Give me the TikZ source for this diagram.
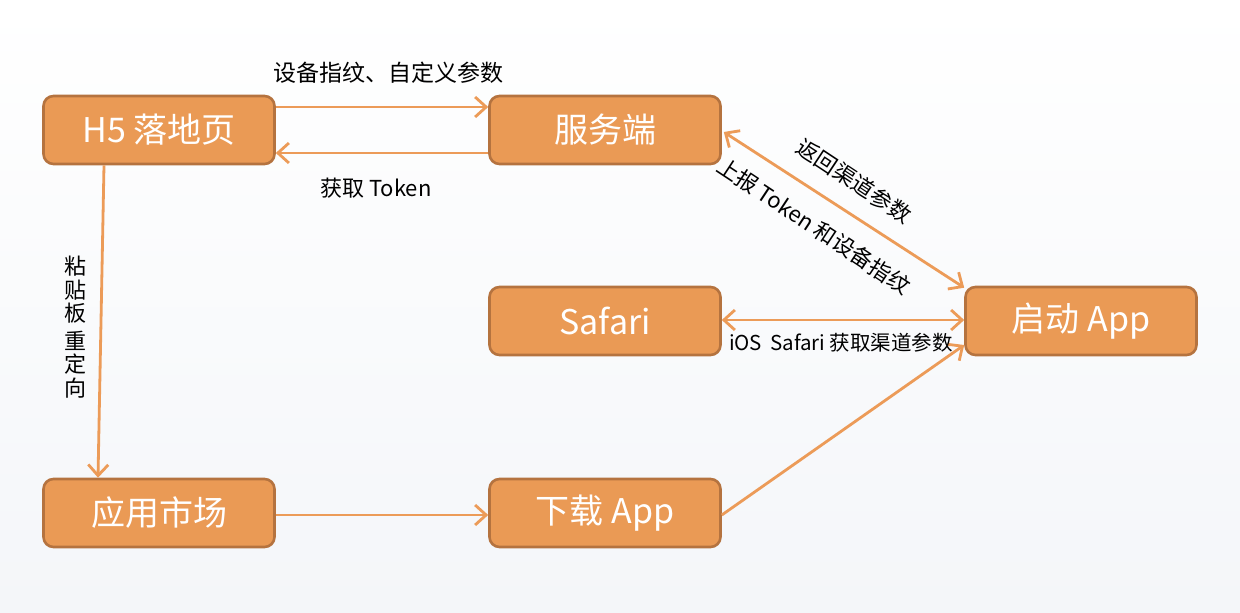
\documentclass[tikz,border=0pt]{standalone}
\usepackage{fontspec}
\setmainfont{Noto Sans CJK SC}
\usetikzlibrary{arrows.meta,calc}
\definecolor{boxfill}{HTML}{EA9A55}
\definecolor{boxline}{HTML}{B5733F}
\definecolor{arrowc}{HTML}{EC9B58}
\definecolor{bgc}{HTML}{F4F6F9}
\begin{document}
\begin{tikzpicture}[x=1pt,y=-1pt,
  stepbox/.style={draw=boxline, fill=boxfill, line width=2.6pt, rounded corners=10pt,
    minimum width=231pt, minimum height=68pt, inner sep=0pt,
    text=white, font=\fontsize{34}{38}\selectfont},
  conn/.style={draw=arrowc, line width=2.8pt, -{Straight Barb[length=11pt,width=20pt]}},
  bconn/.style={draw=arrowc, line width=2.8pt, {Straight Barb[length=11pt,width=20pt]}-{Straight Barb[length=11pt,width=20pt]}},
  lbl/.style={font=\fontsize{22}{26}\selectfont, text=black, inner sep=0pt}]
\useasboundingbox (0,0) rectangle (1240,613);
\shade[top color=white, bottom color=bgc] (0,0) rectangle (1240,613);

\node[stepbox] (h5) at (159,130) {H5 落地页};
\node[stepbox] (server) at (605,130) {服务端};
\node[stepbox] (safari) at (605,321) {Safari};
\node[stepbox] (launch) at (1081,321) {启动 App};
\node[stepbox] (market) at (159,513) {应用市场};
\node[stepbox] (download) at (605,513) {下载 App};

\draw[conn] ([yshift=23pt]h5.east) -- ([yshift=23pt]server.west);
\draw[conn] ([yshift=-23pt]server.west) -- ([yshift=-23pt]h5.east);
\draw[conn] ([xshift=-55pt]h5.south) -- ([xshift=-61pt]market.north);
\draw[conn] ([yshift=-2pt]market.east) -- ([yshift=-2pt]download.west);
\draw[conn] ([yshift=-2pt]download.east) -- ([yshift=-24pt]launch.west);
\draw[bconn] ([yshift=1pt]safari.east) -- ([yshift=1pt]launch.west);
\draw[bconn] ([xshift=2pt,yshift=-2pt]server.east) -- ([yshift=-2pt]launch.north west);

\node[lbl, font=\fontsize{23}{26}\selectfont] (l1) at (388,73) {设备指纹、自定义参数};
\node[lbl] (l2) at (376,188) {获取 Token};
\node[lbl, align=center, font=\fontsize{22}{23.5}\selectfont] (l3) at (75,327) {粘\\贴\\板\\[4pt]重\\定\\向};
\node[lbl, font=\fontsize{20.5}{24}\selectfont] (l4) at (841,343) {iOS\hspace{0.4em}Safari 获取渠道参数};
\node[lbl, rotate=-33.5] (l5) at (854,181) {返回渠道参数};
\node[lbl, rotate=-33.5] (l6) at (814,226) {上报 Token 和设备指纹};
\end{tikzpicture}
\end{document}
